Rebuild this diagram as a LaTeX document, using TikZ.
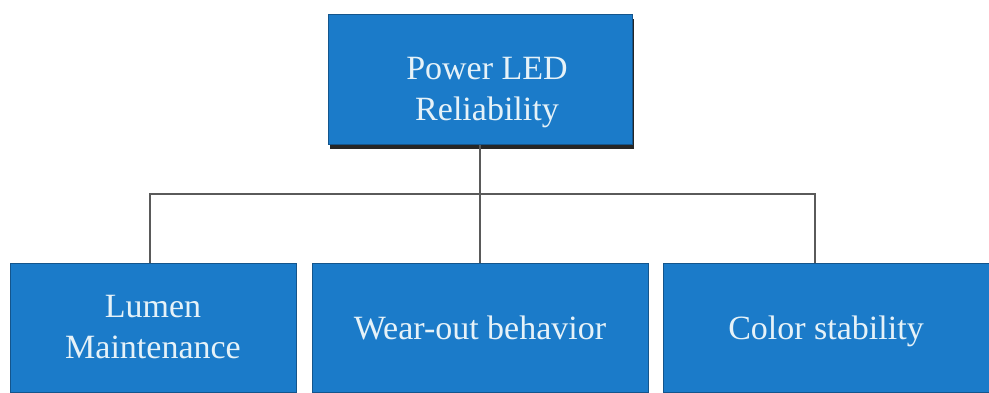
\documentclass[tikz,border=0pt]{standalone}
\usepackage{fontspec}
\setmainfont{Liberation Serif}
\usetikzlibrary{positioning, shadows}
\definecolor{figboxblue}{HTML}{1B7BC9}
\definecolor{figboxedge}{HTML}{14558C}
\definecolor{figtextpale}{HTML}{E6F2F8}
\definecolor{figlinegray}{HTML}{5A5A5A}

\begin{document}
\begin{tikzpicture}[
  x=1pt, y=-1pt,
  figbox/.style={
    rectangle, draw=figboxedge, line width=1pt, fill=figboxblue,
    text=figtextpale, align=center, inner sep=4pt,
    font=\fontsize{34}{41}\selectfont,
    minimum height=129pt,
  },
  figlink/.style={
    draw=figlinegray, line width=1.8pt,
  },
]
\useasboundingbox (0,0) rectangle (989,392);
\node[figbox, minimum width=304pt, minimum height=130pt,
  drop shadow={shadow xshift=2pt, shadow yshift=-5pt, fill=black!85, opacity=1}]
  (figroot) at (480,79) {\rule{0pt}{50pt}\hspace{14pt}Power LED\\\hspace{14pt}Reliability};
\node[figbox, minimum width=286pt] (figlumen) at (153,327.5) {Lumen\\Maintenance};
\node[figbox, minimum width=336pt] (figwear)  at (480,327.5) {Wear-out behavior};
\node[figbox, minimum width=326pt, text depth=0pt] (figcolor) at (826,327.5) {Color stability};
\coordinate (figbus) at (480,194);
\draw[figlink] (figroot.south) -- (figwear.north);
\draw[figlink] ([xshift=-3pt]figlumen.north) |- (figbus) -| ([xshift=-11pt]figcolor.north);
\end{tikzpicture}
\end{document}
